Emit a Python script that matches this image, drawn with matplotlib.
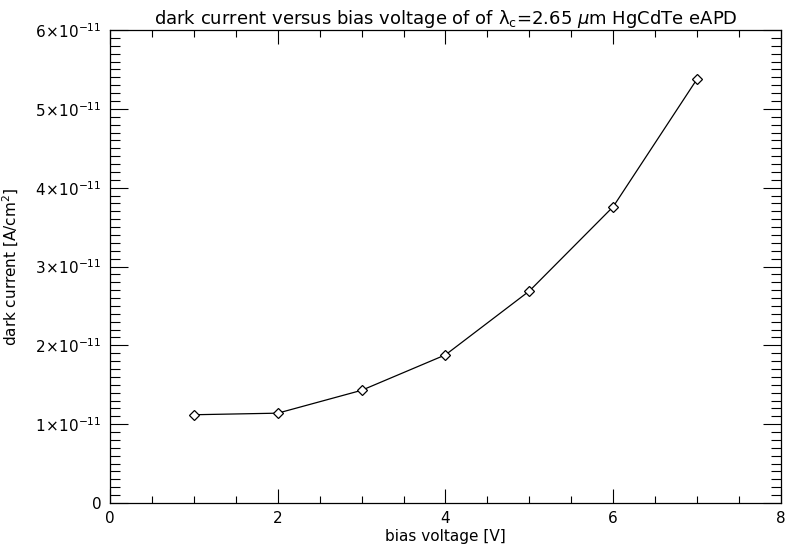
import matplotlib
matplotlib.use("Agg")
import matplotlib.pyplot as plt
from matplotlib.ticker import MultipleLocator, FuncFormatter

bias_v = [1, 2, 3, 4, 5, 6, 7]
dark_i = [1.12e-11, 1.14e-11, 1.43e-11, 1.88e-11, 2.69e-11, 3.76e-11, 5.38e-11]

plt.rcParams['font.family'] = ['DejaVu Sans']
plt.rcParams['mathtext.fontset'] = 'dejavusans'

fig = plt.figure(figsize=(7.88, 5.57), dpi=100)
ax = fig.add_axes([0.1396, 0.0969, 0.8515, 0.8491])

ax.plot(bias_v, dark_i, '-', color='black', lw=0.9,
        marker='D', ms=5.5, mfc='white', mec='black', mew=0.9)

ax.set_xlim(0, 8)
ax.set_ylim(0, 6e-11)

def sci(v, pos):
    if abs(v) < 1e-20:
        return '0'
    m = v / 1e-11
    return r'$%d\!\times\!10^{-11}$' % round(m)

ax.xaxis.set_major_locator(MultipleLocator(2))
ax.xaxis.set_minor_locator(MultipleLocator(0.5))
ax.yaxis.set_major_locator(MultipleLocator(1e-11))
ax.yaxis.set_minor_locator(MultipleLocator(1e-12))
ax.yaxis.set_major_formatter(FuncFormatter(sci))

ax.tick_params(which='both', direction='in', top=True, right=True, labelsize=11, pad=6)
ax.tick_params(axis='x', which='major', length=10, width=0.8)
ax.tick_params(axis='x', which='minor', length=5, width=0.8)
ax.tick_params(axis='y', which='major', length=13, width=0.8)
ax.tick_params(axis='y', which='minor', length=7, width=0.8)
for s in ax.spines.values():
    s.set_linewidth(0.9)

ax.set_xlabel('bias voltage [V]', fontsize=11, labelpad=2)
ax.set_ylabel(r'dark current [A/cm$^2$]', fontsize=11, labelpad=10)
ax.set_title(r'dark current versus bias voltage of of $\mathrm{\lambda_c}$=2.65 $\mu$m HgCdTe eAPD',
             fontsize=13, pad=4)

fig.savefig('out.png', dpi=100)
